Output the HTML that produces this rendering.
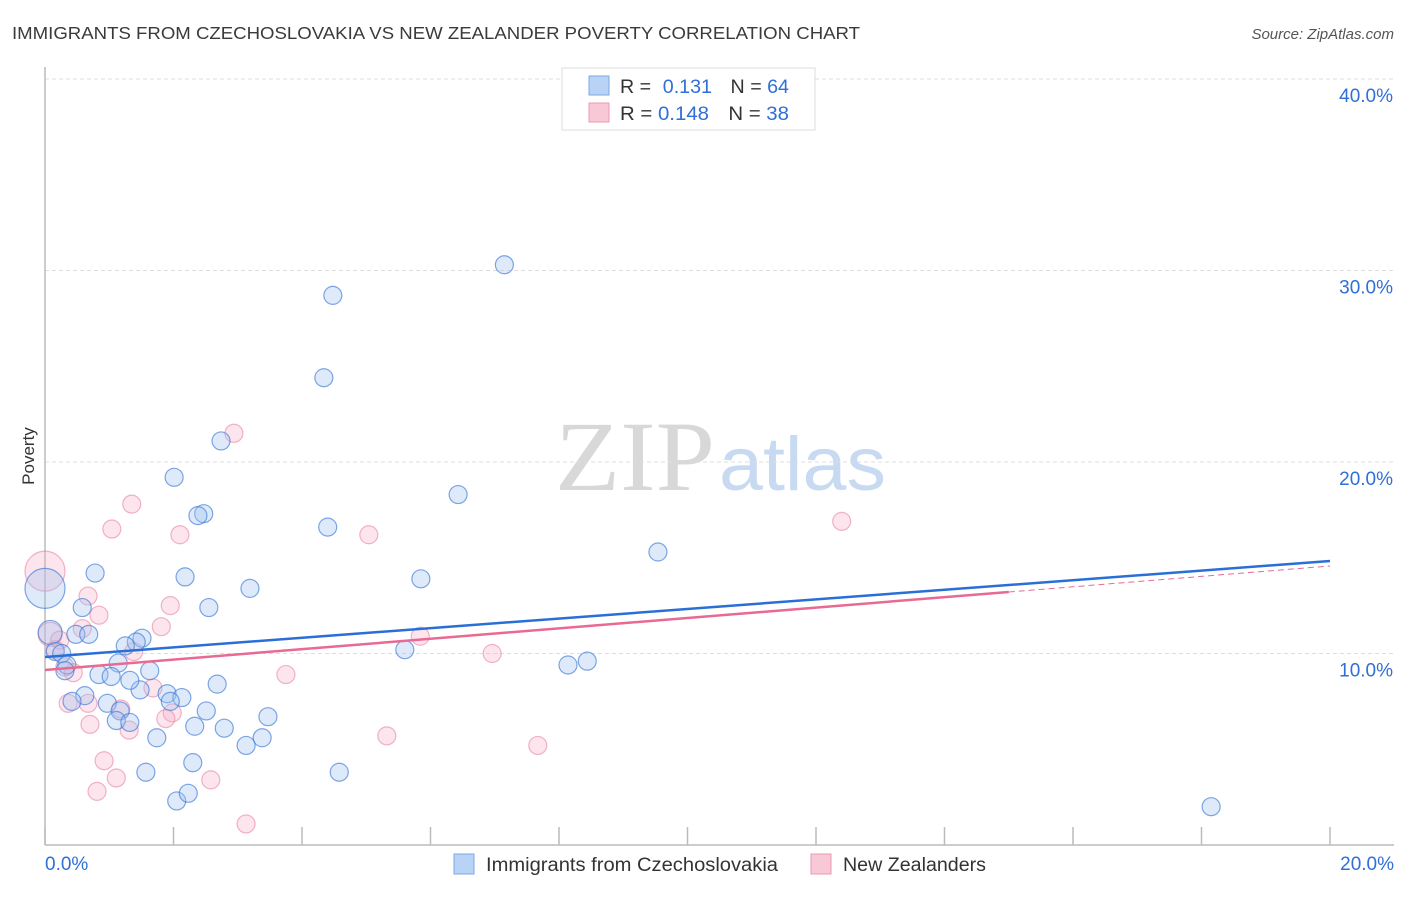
<!DOCTYPE html>
<html><head><meta charset="utf-8">
<style>
body{margin:0;background:#fff;font-family:"Liberation Sans",sans-serif;}
#wrap{position:relative;width:1406px;height:892px;}
</style></head>
<body>
<div id="wrap">
<svg id="chart" width="1406" height="892" xmlns="http://www.w3.org/2000/svg">
<text x="12" y="39" font-size="17.5" fill="#3a3a3a" textLength="848" lengthAdjust="spacingAndGlyphs">IMMIGRANTS FROM CZECHOSLOVAKIA VS NEW ZEALANDER POVERTY CORRELATION CHART</text>
<text x="1394" y="39" font-size="15" fill="#555" font-style="italic" text-anchor="end">Source: ZipAtlas.com</text>
<text x="34" y="456" font-size="17" fill="#333" text-anchor="middle" transform="rotate(-90 34 456)">Poverty</text>
<g>
<text x="555" y="490" font-size="100" fill="#d8d8d8" font-family="Liberation Serif,serif" textLength="160" lengthAdjust="spacingAndGlyphs">ZIP</text>
<text x="719" y="490" font-size="76" fill="#c8daf2" textLength="167" lengthAdjust="spacingAndGlyphs">atlas</text>
</g>
<g id="grid"></g>
<g id="axes"></g>
<g id="pts"></g>
<g id="trends"></g>
<g>
<rect x="562" y="68" width="253" height="62" fill="#fff" stroke="#ddd"/>
<rect x="589" y="76" width="20" height="19" fill="#b8d3f5" stroke="#7aaae6"/>
<text x="620" y="93" font-size="19" fill="#333" textLength="169" lengthAdjust="spacingAndGlyphs">R = <tspan fill="#2f6fd6" dx="6">0.131</tspan><tspan fill="#333" dx="18">N = </tspan><tspan fill="#2f6fd6">64</tspan></text>
<rect x="589" y="103" width="20" height="19" fill="#f9c8d6" stroke="#eb99b2"/>
<text x="620" y="120" font-size="19" fill="#333" textLength="169" lengthAdjust="spacingAndGlyphs">R = <tspan fill="#2f6fd6">0.148</tspan><tspan fill="#333" dx="18">N = </tspan><tspan fill="#2f6fd6">38</tspan></text>
</g>
<g>
<rect x="454" y="854" width="20" height="20" fill="#b8d3f5" stroke="#7aaae6"/>
<text x="486" y="871" font-size="19" fill="#333" textLength="292" lengthAdjust="spacingAndGlyphs">Immigrants from Czechoslovakia</text>
<rect x="811" y="854" width="20" height="20" fill="#f9c8d6" stroke="#eb99b2"/>
<text x="843" y="871" font-size="19" fill="#333" textLength="143" lengthAdjust="spacingAndGlyphs">New Zealanders</text>
</g>
</svg>
</div>
<script>
const blueX=[7.15,4.48,4.34,2.74,2.01,6.43,2.47,2.38,4.40,9.54,0.78,2.18,5.85,3.19,0.58,2.55,0.48,0.68,1.51,1.42,1.25,5.60,0.08,0.16,0.26,0.34,0.31,1.63,1.14,0.84,1.03,0.62,0.42,1.48,1.32,1.90,2.13,2.68,0.97,1.17,1.95,2.51,3.47,1.11,1.32,2.33,2.79,1.74,3.38,3.13,8.14,8.44,1.57,4.58,2.30,2.05,2.23,18.15,0.0];
const blueY=[30.3,28.7,24.4,21.1,19.2,18.3,17.3,17.2,16.6,15.3,14.2,14.0,13.9,13.4,12.4,12.4,11.0,11.0,10.8,10.6,10.4,10.2,11.1,10.1,10.0,9.4,9.1,9.1,9.5,8.9,8.8,7.8,7.5,8.1,8.6,7.9,7.7,8.4,7.4,7.0,7.5,7.0,6.7,6.5,6.4,6.2,6.1,5.6,5.6,5.2,9.4,9.6,3.8,3.8,4.3,2.3,2.7,2.0,13.4];
const blueR=[9,9,9,9,9,9,9,9,9,9,9,9,9,9,9,9,9,9,9,9,9,9,12,9,9,9,9,9,9,9,9,9,9,9,9,9,9,9,9,9,9,9,9,9,9,9,9,9,9,9,9,9,9,9,9,9,9,9,20];
const pinkX=[2.94,1.35,1.04,2.10,5.04,12.40,0.0,0.67,1.95,0.84,1.81,0.58,0.08,1.38,5.84,6.96,3.75,0.44,0.31,1.68,0.36,0.67,1.18,1.98,1.88,0.70,1.31,5.32,7.67,0.92,1.11,2.58,0.81,3.13,0.16,0.23];
const pinkY=[21.5,17.8,16.5,16.2,16.2,16.9,14.3,13.0,12.5,12.0,11.4,11.3,11.0,10.1,10.9,10.0,8.9,9.0,9.3,8.2,7.4,7.4,7.1,6.9,6.6,6.3,6.0,5.7,5.2,4.4,3.5,3.4,2.8,1.1,10.2,10.7];
const pinkR=[9,9,9,9,9,9,20,9,9,9,9,9,12,9,9,9,9,9,9,9,9,9,9,9,9,9,9,9,9,9,9,9,9,9,9,9];
const xTicks=[0,2,4,6,8,10,12,14,16,18,20];
const yTicks=[10,20,30,40];
const yTickLabels=["10.0%","20.0%","30.0%","40.0%"];
const blueTrend=[9.82,14.83];
const pinkTrend=[9.14,14.57];
const pinkSolidEnd=15.0;

const X=v=>45+v*64.25, Y=v=>845-v*19.15;
const NS="http://www.w3.org/2000/svg";
function mk(t,a,p){const e=document.createElementNS(NS,t);for(const k in a)e.setAttribute(k,a[k]);p.appendChild(e);return e;}
const grid=document.getElementById('grid'),axes=document.getElementById('axes'),pts=document.getElementById('pts'),tr=document.getElementById('trends');
yTicks.forEach((v,i)=>{
  const l=mk('line',{x1:45,x2:1394,y1:Y(v),y2:Y(v),stroke:'#ddd','stroke-dasharray':'4,3'},grid);
  
  
  const t=mk('text',{x:1393,y:Y(v)+23,'font-size':19,fill:'#2f6fd6','text-anchor':'end'},axes);
  t.textContent=yTickLabels[i];
  
  
});
const ya=mk('line',{x1:45,x2:45,y1:67,y2:845,stroke:'#bbb','stroke-width':1.5},axes);


const xa=mk('line',{x1:45,x2:1394,y1:845,y2:845,stroke:'#bbb','stroke-width':1.5},axes);


xTicks.forEach(v=>{
  const l=mk('line',{x1:X(v),x2:X(v),y1:827,y2:845,stroke:'#bbb','stroke-width':1.5},axes);
  
  
});
[[0,'0.0%','start',45],[20,'20.0%','end',1394]].forEach(d=>{
  const t=mk('text',{x:d[3],y:870,'font-size':19,fill:'#2f6fd6','text-anchor':d[2]},axes);
  t.textContent=d[1];
  
  
});
pinkX.forEach((v,i)=>{
  const c=mk('circle',{cx:X(v),cy:Y(pinkY[i]),r:pinkR[i],fill:'rgba(246,170,195,0.3)',stroke:'rgba(232,120,155,0.55)','stroke-width':1.2},pts);
  
  
});
blueX.forEach((v,i)=>{
  const c=mk('circle',{cx:X(v),cy:Y(blueY[i]),r:blueR[i],fill:'rgba(160,195,240,0.35)',stroke:'rgba(60,120,215,0.65)','stroke-width':1.2},pts);
  
  
});
const pAt=x=>pinkTrend[0]+(pinkTrend[1]-pinkTrend[0])*x/20;
const bl=mk('line',{x1:X(0),y1:Y(blueTrend[0]),x2:X(20),y2:Y(blueTrend[1]),stroke:'#2a6fd6','stroke-width':2.5},tr);


const pl=mk('line',{x1:X(0),y1:Y(pAt(0)),x2:X(pinkSolidEnd),y2:Y(pAt(pinkSolidEnd)),stroke:'#e86a93','stroke-width':2.5},tr);


const pd=mk('line',{x1:X(pinkSolidEnd),y1:Y(pAt(pinkSolidEnd)),x2:X(20),y2:Y(pAt(20)),stroke:'#e86a93','stroke-width':1,'stroke-dasharray':'6,4'},tr);


</script>
</body></html>
